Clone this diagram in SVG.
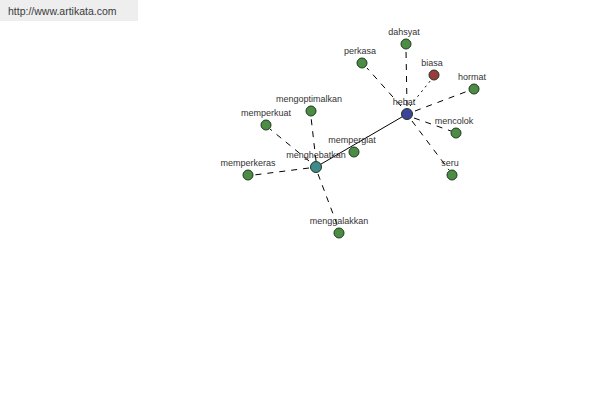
<svg xmlns="http://www.w3.org/2000/svg" width="600" height="400" viewBox="0 0 600 400">
<style>
text{font-family:"Liberation Sans",Arial,sans-serif;font-size:9px;fill:#333;text-anchor:middle}
.n{stroke:#1e3a1e;stroke-width:1}
.g{fill:#4c8c45}
.d{stroke:#000;stroke-width:1;stroke-dasharray:6,6;fill:none}
.t{stroke:#000;stroke-width:1;stroke-dasharray:2,4;fill:none}
.s{stroke:#000;stroke-width:1;fill:none}
</style>
<rect x="0" y="0" width="600" height="400" fill="#fff"/>
<rect x="0" y="0" width="138" height="21" fill="#eeeeee"/>
<text x="8" y="15" style="text-anchor:start;font-size:10.5px;fill:#3a3a3a">http://www.artikata.com</text>
<g id="connectors">
<line class="s" x1="407" y1="114" x2="316" y2="167"/>
<line class="d" x1="407" y1="106" x2="406" y2="50"/>
<line class="d" x1="401" y1="106" x2="367" y2="68"/>
<line class="t" x1="410" y1="106" x2="431" y2="80"/>
<line class="d" x1="415" y1="111" x2="468" y2="91"/>
<line class="d" x1="414" y1="118" x2="451" y2="131"/>
<line class="d" x1="412" y1="121" x2="449" y2="170"/>
<line class="d" x1="316" y1="161" x2="311" y2="117"/>
<line class="d" x1="309" y1="161" x2="270" y2="129"/>
<line class="d" x1="309" y1="168" x2="254" y2="175"/>
<line class="d" x1="318" y1="174" x2="338" y2="227"/>
</g>
<g id="hebat"><circle class="n" cx="407" cy="114" r="5.5" fill="#3f4399"/><text x="404" y="105">hebat</text></g>
<g id="menghebatkan"><circle class="n" cx="316" cy="167" r="5.5" fill="#3f8a8a"/><text x="316" y="158">menghebatkan</text></g>
<g id="dahsyat"><circle class="n g" cx="406" cy="44" r="5"/><text x="404" y="35">dahsyat</text></g>
<g id="perkasa"><circle class="n g" cx="362" cy="63" r="5"/><text x="360" y="54">perkasa</text></g>
<g id="biasa"><circle class="n" cx="434" cy="75" r="5" fill="#9a3c3c"/><text x="432" y="66">biasa</text></g>
<g id="hormat"><circle class="n g" cx="474" cy="89" r="5"/><text x="472" y="80">hormat</text></g>
<g id="mencolok"><circle class="n g" cx="456" cy="133" r="5"/><text x="454" y="124">mencolok</text></g>
<g id="seru"><circle class="n g" cx="452" cy="175" r="5"/><text x="450" y="166">seru</text></g>
<g id="mempergiat"><circle class="n g" cx="354" cy="152" r="5"/><text x="352" y="143">mempergiat</text></g>
<g id="mengoptimalkan"><circle class="n g" cx="311" cy="111" r="5"/><text x="309" y="102">mengoptimalkan</text></g>
<g id="memperkuat"><circle class="n g" cx="266" cy="125" r="5"/><text x="266" y="116">memperkuat</text></g>
<g id="memperkeras"><circle class="n g" cx="248" cy="175" r="5"/><text x="248" y="166">memperkeras</text></g>
<g id="menggalakkan"><circle class="n g" cx="339" cy="233" r="5"/><text x="339" y="224">menggalakkan</text></g>
</svg>
